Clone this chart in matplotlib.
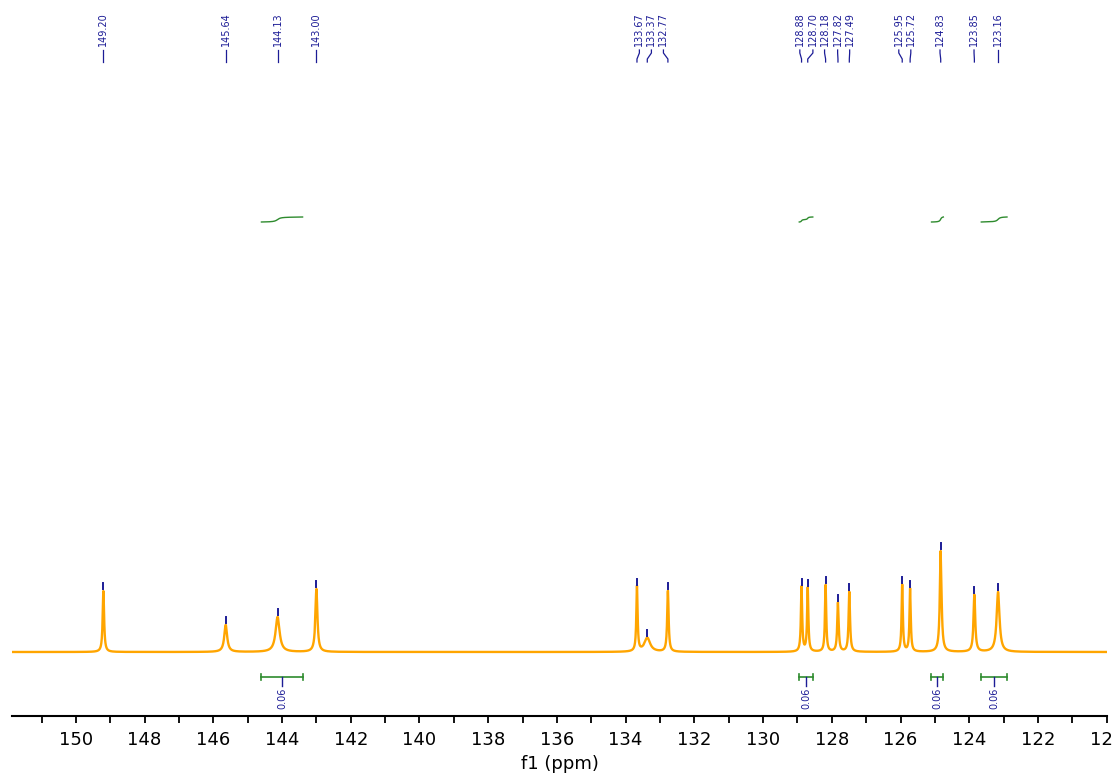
import numpy as np
import matplotlib
matplotlib.use("Agg")
import matplotlib.pyplot as plt

# peak list: position (ppm), height (arb. units), half width (ppm)
peak_ppm = [149.20, 145.64, 144.13, 143.00, 133.67, 133.37, 132.77, 128.88, 128.70,
            128.18, 127.82, 127.49, 125.95, 125.72, 124.83, 123.85, 123.16]
peak_height = [61, 27, 35, 63, 65, 14, 61, 65, 64, 67, 49, 60, 67, 63, 101, 57, 60]
peak_width = [0.025, 0.05, 0.07, 0.035, 0.022, 0.10, 0.025, 0.022, 0.022,
              0.022, 0.025, 0.025, 0.022, 0.022, 0.03, 0.03, 0.05]
# where the rotated labels sit at the top (ppm)
label_ppm = [149.20, 145.64, 144.13, 143.00, 133.60, 133.25, 132.90, 128.93, 128.55,
             128.21, 127.83, 127.48, 126.05, 125.70, 124.85, 123.86, 123.16]

# integral regions (ppm start, ppm end) and values
integ_start = [144.60, 128.95, 125.10, 123.65]
integ_end = [143.40, 128.55, 124.75, 122.90]
integ_value = ["0.06", "0.06", "0.06", "0.06"]

XMAX, XMIN = 151.86, 119.99
NAVY = "#1c1c96"
GREEN = "#2e8b2e"
ORANGE = "#ffa500"

x = np.linspace(XMIN, XMAX, 9000)
y = np.zeros_like(x)
for p, h, w in zip(peak_ppm, peak_height, peak_width):
    y += h / (1 + ((x - p) / w) ** 2)

fig = plt.figure(figsize=(11.12, 7.76), dpi=100)
ax = fig.add_axes([12 / 1112, 60 / 776, 1095 / 1112, 716 / 776])
ax.plot(x, y, color=ORANGE, lw=1.7)
ax.set_xlim(XMAX, XMIN)
ax.set_ylim(-64, 652)

for s in ["top", "left", "right"]:
    ax.spines[s].set_visible(False)
ax.spines["bottom"].set_linewidth(1.5)
ax.set_yticks([])
ax.set_xticks(np.arange(120, 152, 2))
ax.set_xticks(np.arange(121, 152, 1), minor=True)
ax.tick_params(axis="x", which="major", direction="out", length=5, width=1.3, labelsize=13, pad=6)
ax.tick_params(axis="x", which="minor", direction="out", length=5, width=1.3)
ax.set_xlabel("f1 (ppm)", fontsize=13, labelpad=4)

# peak top markers, connectors and labels
for p, h, lp in zip(peak_ppm, peak_height, label_ppm):
    ax.plot([p, p], [h + 2, h + 8], color=NAVY, lw=1.4)
    ax.plot([lp, lp, p, p], [602, 599, 593, 590], color=NAVY, lw=0.9)
    ax.text(lp, 606, f"{p:.2f}", rotation=90, ha="center", va="bottom",
            fontsize=7, color=NAVY)

# integral curves and bars
for a, b, v in zip(integ_start, integ_end, integ_value):
    m = (x <= a) & (x >= b)
    xs = x[m][::-1]
    ys = y[m][::-1]
    cum = np.cumsum(ys)
    cum = cum / cum[-1]
    ax.plot(xs, 430 + 5 * cum, color=GREEN, lw=1.0)
    ax.plot([a, b], [-25, -25], color=GREEN, lw=1.2)
    ax.plot([a, a], [-28, -22], color=GREEN, lw=1.2)
    ax.plot([b, b], [-28, -22], color=GREEN, lw=1.2)
    c = (a + b) / 2
    ax.plot([c, c], [-25, -34], color=NAVY, lw=1.0)
    ax.text(c, -36, v, rotation=90, ha="center", va="top", fontsize=7, color=NAVY)

fig.savefig("out.png", dpi=100)
